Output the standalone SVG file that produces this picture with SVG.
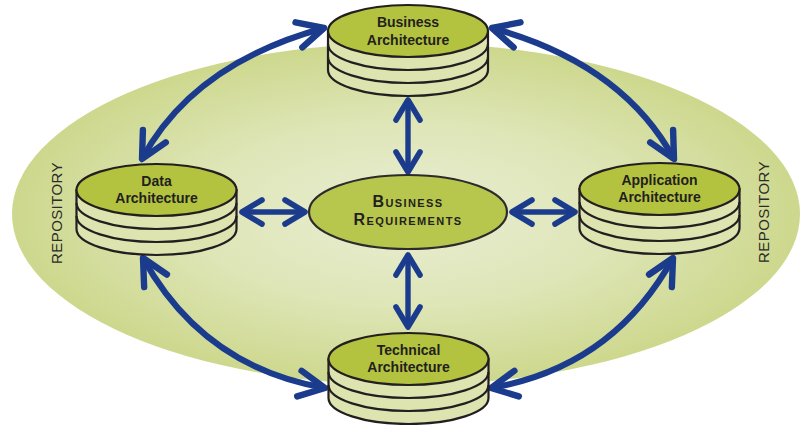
<svg xmlns="http://www.w3.org/2000/svg" width="804" height="425" viewBox="0 0 804 425">
<defs>
<radialGradient id="bg" cx="0.5" cy="0.5" r="0.5">
<stop offset="0" stop-color="#e9eed3"/>
<stop offset="0.55" stop-color="#dee5b6"/>
<stop offset="1" stop-color="#cdd88d"/>
</radialGradient>
<marker id="hs" viewBox="-25 -17 29 34" refX="0" refY="0" markerWidth="29" markerHeight="34" markerUnits="userSpaceOnUse" orient="auto-start-reverse">
<path d="M-20,-12 L0,0 L-20,12" fill="none" stroke="#1b3b8d" stroke-width="5.6" stroke-linecap="round" stroke-linejoin="round"/>
</marker>
<marker id="hl" viewBox="-31 -18 35 36" refX="0" refY="0" markerWidth="35" markerHeight="36" markerUnits="userSpaceOnUse" orient="auto-start-reverse">
<path d="M-26,-13 L0,0 L-26,13" fill="none" stroke="#1b3b8d" stroke-width="6.4" stroke-linecap="round" stroke-linejoin="round"/>
</marker>
</defs>
<style>
.body{fill:#dde4b0;stroke:#231f20;stroke-width:2.2}
.ring{fill:none;stroke:#231f20;stroke-width:2.2}
.top{fill:#b4c33f;stroke:#231f20;stroke-width:2.2}
.lbl{font-family:"Liberation Sans",Arial,sans-serif;font-weight:bold;font-size:14px;fill:#231f20;text-anchor:middle}
.rep{font-family:"Liberation Sans",Arial,sans-serif;font-size:15px;fill:#2b2b2b;text-anchor:middle;letter-spacing:0.4px}
.s{fill:none;stroke:#1b3b8d;stroke-width:5.4;marker-start:url(#hs);marker-end:url(#hs)}
.c{fill:none;stroke:#1b3b8d;stroke-width:6.2;marker-start:url(#hl);marker-end:url(#hl)}
</style>
<ellipse id="repository" cx="406" cy="214" rx="394" ry="171" fill="url(#bg)"/>
<text class="rep" transform="translate(62,213) rotate(-90)">REPOSITORY</text>
<text class="rep" transform="translate(769,212) rotate(-90)">REPOSITORY</text>
<g id="connectors">
<path class="s" d="M408,100 L408,172"/>
<path class="s" d="M408,255 L408,327"/>
<path class="s" d="M242,212 L305,212"/>
<path class="s" d="M512,212 L575,212"/>
<path class="c" d="M324,28 C280,40 190,70 142,159"/>
<path class="c" d="M492,28 C536,40 626,70 674,159"/>
<path class="c" d="M143,258 Q203,367 325,388"/>
<path class="c" d="M673,258 Q613,367 491,388"/>
</g>
<g id="business-architecture" transform="translate(408,31)">
<path class="body" d="M-80,0 L-80,39 A80,26 0 0 0 80,39 L80,0 Z"/>
<path class="ring" d="M-80,13 A80,26 0 0 0 80,13 M-80,26 A80,26 0 0 0 80,26"/>
<ellipse class="top" cx="0" cy="0" rx="80" ry="26"/>
<text class="lbl" x="0" y="-4">Business</text>
<text class="lbl" x="0" y="14">Architecture</text>
</g>
<g id="data-architecture" transform="translate(156.5,190)">
<path class="body" d="M-80,0 L-80,39 A80,26 0 0 0 80,39 L80,0 Z"/>
<path class="ring" d="M-80,13 A80,26 0 0 0 80,13 M-80,26 A80,26 0 0 0 80,26"/>
<ellipse class="top" cx="0" cy="0" rx="80" ry="26"/>
<text class="lbl" x="0" y="-4">Data</text>
<text class="lbl" x="0" y="13">Architecture</text>
</g>
<g id="application-architecture" transform="translate(659.5,189)">
<path class="body" d="M-80,0 L-80,39 A80,26 0 0 0 80,39 L80,0 Z"/>
<path class="ring" d="M-80,13 A80,26 0 0 0 80,13 M-80,26 A80,26 0 0 0 80,26"/>
<ellipse class="top" cx="0" cy="0" rx="80" ry="26"/>
<text class="lbl" x="0" y="-4">Application</text>
<text class="lbl" x="0" y="13">Architecture</text>
</g>
<g id="technical-architecture" transform="translate(408.5,359)">
<path class="body" d="M-80,0 L-80,39 A80,26 0 0 0 80,39 L80,0 Z"/>
<path class="ring" d="M-80,13 A80,26 0 0 0 80,13 M-80,26 A80,26 0 0 0 80,26"/>
<ellipse class="top" cx="0" cy="0" rx="80" ry="26"/>
<text class="lbl" x="0" y="-4">Technical</text>
<text class="lbl" x="0" y="13">Architecture</text>
</g>
<g id="business-requirements">
<ellipse cx="408" cy="212" rx="99" ry="37" fill="#b7c64c" stroke="#2e2b2c" stroke-width="2.2"/>
<text class="lbl" x="408" y="207" style="font-size:16px;font-variant:small-caps;letter-spacing:1.4px">Business</text>
<text class="lbl" x="408" y="225" style="font-size:16px;font-variant:small-caps;letter-spacing:1.4px">Requirements</text>
</g>
</svg>
